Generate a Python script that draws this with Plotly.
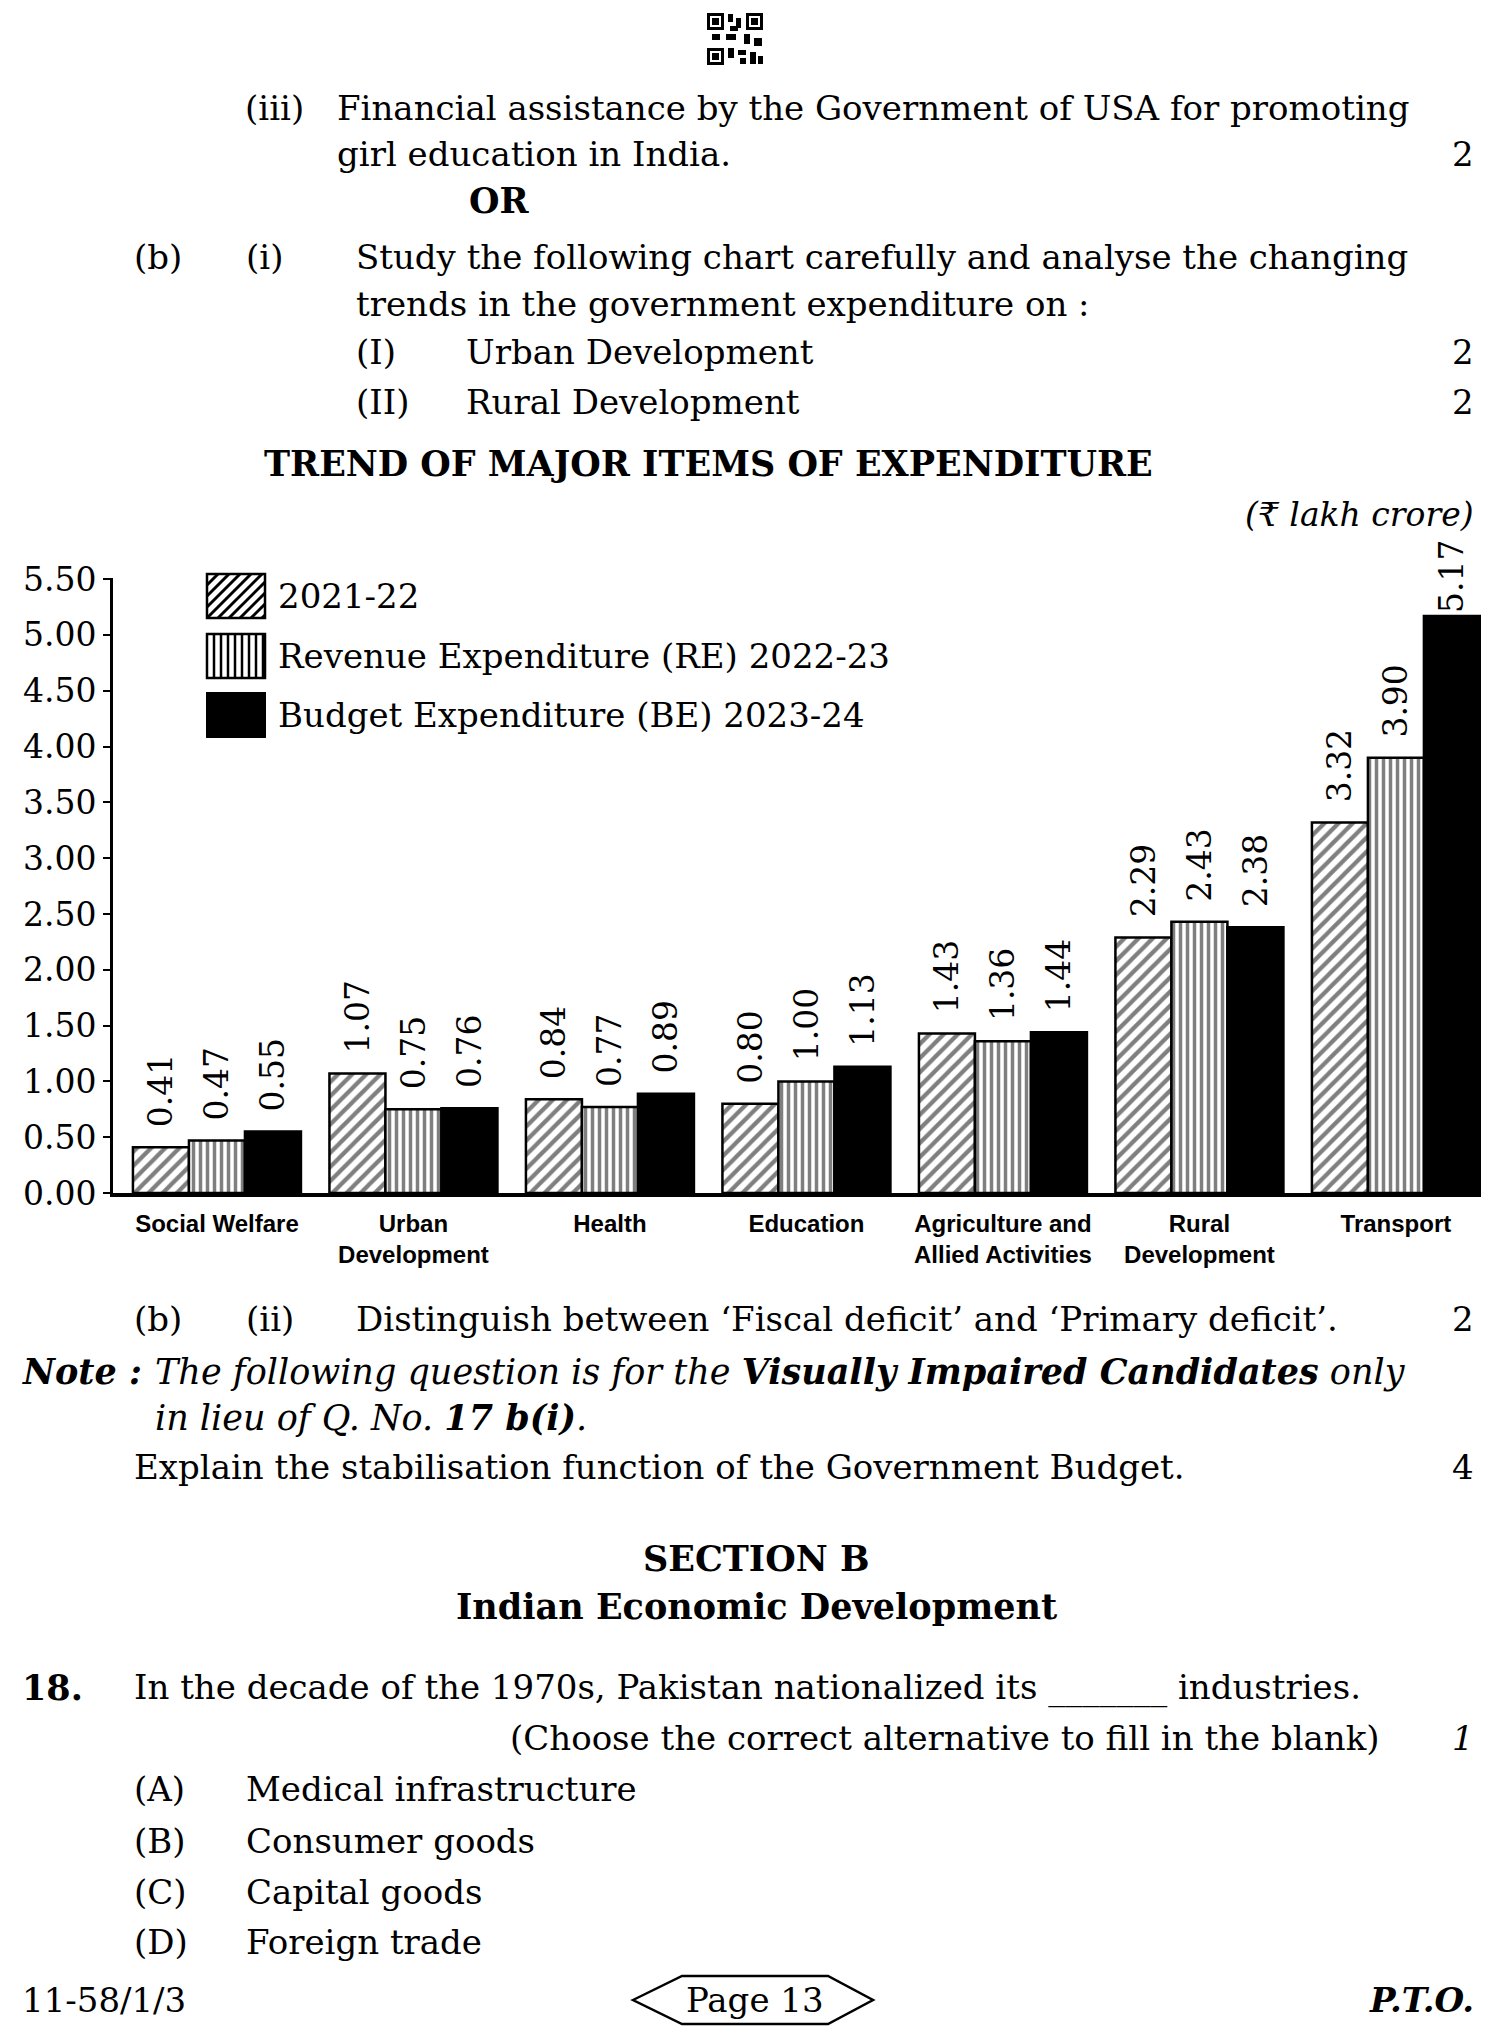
import plotly.graph_objects as go

# ---- chart data (₹ lakh crore) ----
CATEGORIES = ["Social Welfare", "Urban Development", "Health", "Education",
              "Agriculture and Allied Activities", "Rural Development", "Transport"]
TICK_TEXT = ["Social Welfare", "Urban<br>Development", "Health", "Education",
             "Agriculture and<br>Allied Activities", "Rural<br>Development", "Transport"]
EXP_2021_22 = [0.41, 1.07, 0.84, 0.80, 1.43, 2.29, 3.32]
RE_2022_23 = [0.47, 0.75, 0.77, 1.00, 1.36, 2.43, 3.90]
BE_2023_24 = [0.55, 0.76, 0.89, 1.13, 1.44, 2.38, 5.17]
SERIES = ["2021-22", "Revenue Expenditure (RE) 2022-23", "Budget Expenditure (BE) 2023-24"]
Y_TICKS = [0.0, 0.5, 1.0, 1.5, 2.0, 2.5, 3.0, 3.5, 4.0, 4.5, 5.0, 5.5]

# page geometry: body has an 8px margin, so the figure is 16px smaller than the window
W, H = 1489, 2018
OFF = 8
SERIF = "DejaVu Serif, Liberation Serif, serif"
NARROW = "Liberation Sans Narrow, Liberation Sans, sans-serif"
BODY = 34
BIG = 35


def fx(x):
    return (x - OFF) / W


def fy(y):
    return 1 - (y - OFF) / H


def bar_label(v):
    # leading no-break space keeps the rotated label clear of the bar top,
    # except for the tallest bar which would run into the unit note
    pad = "" if v > 5 else "\u00a0\u2009"
    return pad + f"{v:.2f}"


_BAR_STYLE = [
    dict(color="white", pattern=dict(shape="/", fgcolor="black", bgcolor="white", size=10, solidity=0.42)),
    dict(color="white", pattern=dict(shape="|", fgcolor="black", bgcolor="white", size=7, solidity=0.5)),
    dict(color="black"),
]

fig = go.Figure()
for name, vals, style in zip(SERIES, [EXP_2021_22, RE_2022_23, BE_2023_24], _BAR_STYLE):
    fig.add_trace(go.Bar(
        x=CATEGORIES, y=vals, name=name,
        marker=dict(**style, line=dict(color="black", width=2.5)),
        text=[bar_label(v) for v in vals],
        textposition="outside", textangle=-90, constraintext="none",
        textfont=dict(family=SERIF, size=33, color="black"),
        cliponaxis=False, showlegend=False,
    ))

# ---- page text: (x, y, text, anchor, size) ----
L, R, C = "left", "right", "center"
TEXT = [
    (243, 108, "(iii)", L, BODY), (335, 108, "Financial assistance by the Government of USA for promoting", L, BODY),
    (335, 154, "girl education in India.", L, BODY), (1476, 154, "2", R, BODY),
    (467, 200, "<b>OR</b>", L, BIG),
    (132, 257, "(b)", L, BODY), (244, 257, "(i)", L, BODY),
    (354, 257, "Study the following chart carefully and analyse the changing", L, BODY),
    (354, 304, "trends in the government expenditure on :", L, BODY),
    (354, 352, "(I)", L, BODY), (464, 352, "Urban Development", L, BODY), (1476, 352, "2", R, BODY),
    (354, 402, "(II)", L, BODY), (464, 402, "Rural Development", L, BODY), (1476, 402, "2", R, BODY),
    (708, 464, "<b>TREND OF MAJOR ITEMS OF EXPENDITURE</b>", C, BIG),
    (1476, 514, "<i>(₹ lakh crore)</i>", R, 33),
    (132, 1319, "(b)", L, BODY), (244, 1319, "(ii)", L, BODY),
    (354, 1319, "Distinguish between ‘Fiscal deficit’ and ‘Primary deficit’.", L, BODY), (1476, 1319, "2", R, BODY),
    (20, 1371, "<b><i>Note :</i></b>", L, BIG),
    (153, 1371, "<i>The following question is for the <b>Visually Impaired Candidates</b> only</i>", L, BIG),
    (153, 1417, "<i>in lieu of Q. No. <b>17 b(i)</b>.</i>", L, BIG),
    (132, 1467, "Explain the stabilisation function of the Government Budget.", L, BODY), (1476, 1467, "4", R, BODY),
    (756, 1558, "<b>SECTION B</b>", C, BIG),
    (756, 1606, "<b>Indian Economic Development</b>", C, BIG),
    (20, 1687, "<b>18.</b>", L, BIG),
    (132, 1687, "In the decade of the 1970s, Pakistan nationalized its _______ industries.", L, BODY),
    (1382, 1738, "(Choose the correct alternative to fill in the blank)", R, BODY), (1476, 1738, "<i>1</i>", R, BODY),
    (132, 1789, "(A)", L, BODY), (244, 1789, "Medical infrastructure", L, BODY),
    (132, 1841, "(B)", L, BODY), (244, 1841, "Consumer goods", L, BODY),
    (132, 1892, "(C)", L, BODY), (244, 1892, "Capital goods", L, BODY),
    (132, 1942, "(D)", L, BODY), (244, 1942, "Foreign trade", L, BODY),
    (20, 2000, "11-58/1/3", L, BODY), (755, 2000, "Page 13", C, BODY), (1476, 2000, "<b><i>P.T.O.</i></b>", R, BODY),
]

annotations = [
    dict(x=fx(x), y=fy(y), xref="paper", yref="paper", text=t, xanchor=a, yanchor="middle",
         showarrow=False, font=dict(family=SERIF, size=s, color="black"))
    for x, y, t, a, s in TEXT
]

# legend labels
LEG_X, LEG_Y = 207, [574, 634, 693]
SW_W, SW_H = 58, 44
for name, y0 in zip(SERIES, LEG_Y):
    annotations.append(dict(x=fx(LEG_X + SW_W + 11), y=fy(y0 + SW_H / 2), xref="paper", yref="paper",
                            text=name, xanchor="left", yanchor="middle", showarrow=False,
                            font=dict(family=SERIF, size=BODY, color="black")))


def rect(x0, y0, x1, y1, fill="white", width=2):
    return dict(type="rect", xref="paper", yref="paper", x0=fx(x0), x1=fx(x1), y0=fy(y0), y1=fy(y1),
                fillcolor=fill, line=dict(color="black", width=width))


def seg(x0, y0, x1, y1, width):
    return dict(type="line", xref="paper", yref="paper", x0=fx(x0), x1=fx(x1), y0=fy(y0), y1=fy(y1),
                line=dict(color="black", width=width))


shapes = []
# legend swatches: diagonal hatch, vertical lines, solid
x0, y0 = LEG_X, LEG_Y[0]
shapes.append(rect(x0, y0, x0 + SW_W, y0 + SW_H, width=2.5))
c = 11
while c < SW_W + SW_H:
    u1, u2 = max(0, c - SW_H), min(SW_W, c)
    shapes.append(seg(x0 + u1, y0 + c - u1, x0 + u2, y0 + c - u2, 3))
    c += 11
x0, y0 = LEG_X, LEG_Y[1]
shapes.append(rect(x0, y0, x0 + SW_W, y0 + SW_H, width=2.5))
u = 7
while u < SW_W:
    shapes.append(seg(x0 + u, y0, x0 + u, y0 + SW_H, 2.5))
    u += 7
x0, y0 = LEG_X, LEG_Y[2]
shapes.append(rect(x0, y0, x0 + SW_W, y0 + SW_H, fill="black"))

# page-number tag
hexa = [(633, 2000), (682, 1976), (828, 1976), (873, 2000), (828, 2024), (682, 2024)]
path = "M " + " L ".join(f"{fx(px)},{fy(py)}" for px, py in hexa) + " Z"
shapes.append(dict(type="path", xref="paper", yref="paper", path=path,
                   line=dict(color="black", width=2.5), fillcolor="rgba(0,0,0,0)"))

# small QR mark at the top
for qx, qy in [(707, 13), (746, 13), (707, 48)]:
    shapes.append(rect(qx + 1.5, qy + 1.5, qx + 15.5, qy + 15.5, width=3))
    shapes.append(rect(qx + 5, qy + 5, qx + 12, qy + 12, fill="black", width=0))
for bx0, by0, bx1, by1 in [(728, 14, 733, 22), (736, 18, 741, 28), (726, 34, 736, 40), (744, 34, 750, 44),
                           (754, 38, 762, 46), (728, 48, 734, 58), (738, 50, 746, 55), (750, 52, 756, 64),
                           (740, 58, 746, 64), (712, 34, 720, 40), (758, 56, 763, 64), (730, 26, 738, 31)]:
    shapes.append(rect(bx0, by0, bx1, by1, fill="black", width=0))

fig.update_layout(
    width=W, height=H,
    margin=dict(l=0, r=0, t=0, b=0, autoexpand=False),
    paper_bgcolor="white", plot_bgcolor="white",
    font=dict(family=SERIF, color="black"),
    barmode="group", bargap=0.145, bargroupgap=0,
    showlegend=False,
    annotations=annotations,
    shapes=shapes,
    xaxis=dict(
        domain=[fx(113), fx(1481)], range=[-0.529, 6.433],
        tickvals=CATEGORIES, ticktext=TICK_TEXT, tickangle=0,
        showline=True, linecolor="black", linewidth=4,
        ticks="", showgrid=False, zeroline=False, automargin=False,
        tickfont=dict(family=NARROW, size=24, weight="bold", color="black"),
        ticklabelstandoff=6,
    ),
    yaxis=dict(
        domain=[fy(1193), fy(578)], range=[0, 5.51],
        tickvals=Y_TICKS, ticktext=[f"{v:.2f}" for v in Y_TICKS],
        showline=True, linecolor="black", linewidth=3,
        ticks="outside", ticklen=7, tickwidth=2, tickcolor="black",
        showgrid=False, zeroline=False, automargin=False,
        tickfont=dict(family=SERIF, size=33, color="black"),
        ticklabelstandoff=0,
    ),
)

fig.write_html("out.html")
